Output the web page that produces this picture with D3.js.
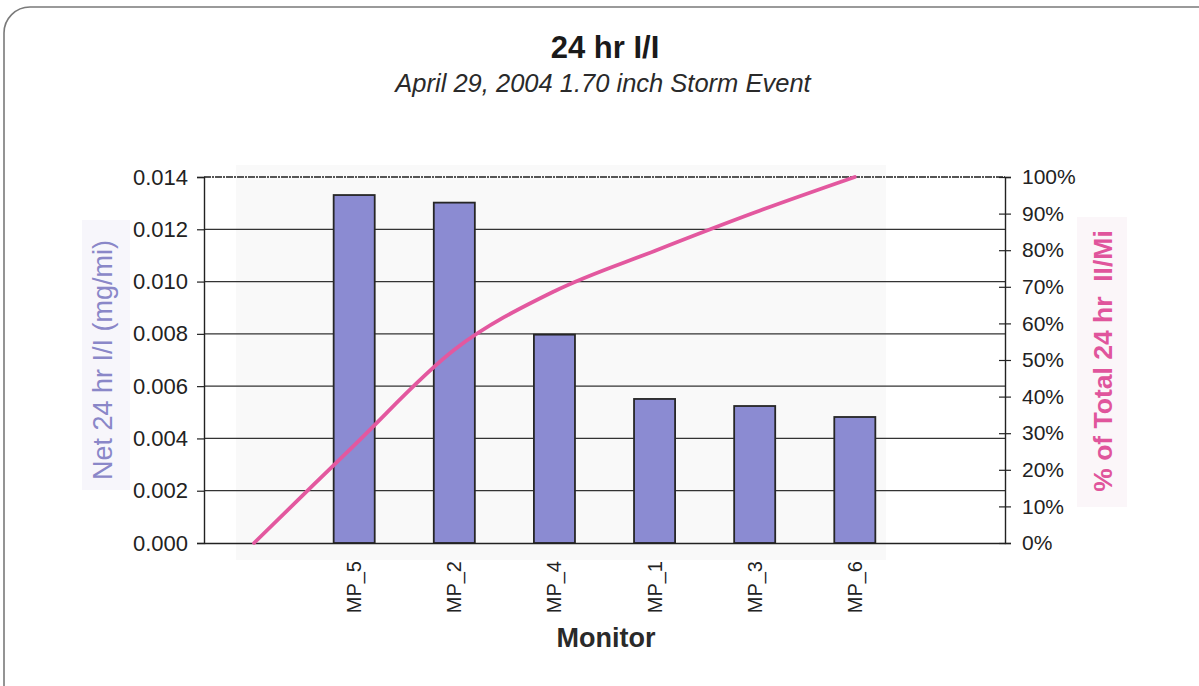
<!DOCTYPE html>
<html>
<head>
<meta charset="utf-8">
<script src="https://cdn.jsdelivr.net/npm/d3@7"></script>
<style>
  html, body { margin: 0; padding: 0; background: #fff; }
  svg { display: block; font-family: "Liberation Sans", Arial, sans-serif; }
</style>
</head>
<body>
<svg id="chart" width="1199" height="686"></svg>
<script>
// Monitors, ordered by net 24 hr I/I (descending)
const monitors = ["MP_5", "MP_2", "MP_4", "MP_1", "MP_3", "MP_6"];
// Net 24 hr I/I per monitor (mg/mi)
const netII = [0.01331, 0.01302, 0.00797, 0.00551, 0.00524, 0.00482];
// Cumulative % of total, starting from 0 one slot before the first monitor
const cumulativePct = [0, 26.7, 52.8, 68.8, 79.8, 90.3, 100];
// Axis ticks
const leftTicks = [0, 0.002, 0.004, 0.006, 0.008, 0.010, 0.012, 0.014];
const rightTicks = [0, 10, 20, 30, 40, 50, 60, 70, 80, 90, 100];

const FONT = "'Liberation Sans', Arial, sans-serif";
const svg = d3.select("#chart");

const plot = { left: 204, right: 1005, top: 177, bottom: 543 };

// One empty slot on each side of the monitors
const slots = ["lead", ...monitors, "trail"];
const x = d3.scaleBand().domain(slots).range([plot.left, plot.right]).padding(0);
const barW = x.bandwidth() * 0.41;
const cx = s => x(s) + x.bandwidth() / 2;

const yL = d3.scaleLinear().domain([0, 0.014]).range([plot.bottom, plot.top]);
const yR = d3.scaleLinear().domain([0, 100]).range([plot.bottom, plot.top]);

// Outer frame with rounded corners
svg.append("rect")
  .attr("x", 4).attr("y", 7).attr("width", 1230).attr("height", 720)
  .attr("rx", 26).attr("ry", 26)
  .attr("fill", "#fff").attr("stroke", "#7a7a7a").attr("stroke-width", 1.6);

// Faint backing panels
svg.append("rect")
  .attr("x", 236).attr("y", 165).attr("width", 650).attr("height", 395)
  .attr("fill", "#f9f9f9");
svg.append("rect")
  .attr("x", 82).attr("y", 220).attr("width", 48).attr("height", 270)
  .attr("fill", "#f7f6fb");
svg.append("rect")
  .attr("x", 1077).attr("y", 217).attr("width", 50).attr("height", 290)
  .attr("fill", "#fbf6f9");

// Horizontal gridlines
svg.append("g").selectAll("line")
  .data(leftTicks.slice(1))
  .join("line")
  .attr("x1", plot.left).attr("x2", plot.right)
  .attr("y1", d => yL(d)).attr("y2", d => yL(d))
  .attr("stroke", d => d === 0.014 ? "#555" : "#333")
  .attr("stroke-width", d => d === 0.014 ? 1.8 : 1.3)
  .attr("stroke-dasharray", d => d === 0.014 ? "7,1,2,1" : null);

// Bars
svg.append("g").selectAll("rect")
  .data(monitors)
  .join("rect")
  .attr("x", d => cx(d) - barW / 2)
  .attr("y", (d, i) => yL(netII[i]))
  .attr("width", barW)
  .attr("height", (d, i) => yL(0) - yL(netII[i]))
  .attr("fill", "#8b8bd2")
  .attr("stroke", "#262626")
  .attr("stroke-width", 1.8);

// Left axis
const leftAxis = d3.axisLeft(yL)
  .tickValues(leftTicks)
  .tickFormat(d3.format(".3f"))
  .tickSizeOuter(0)
  .tickSize(7)
  .tickPadding(9);
const gL = svg.append("g").attr("transform", `translate(${plot.left},0)`).call(leftAxis);
gL.select(".domain").attr("stroke", "#222").attr("stroke-width", 1.4);
gL.selectAll(".tick line").attr("stroke", "#222").attr("stroke-width", 1.2);
gL.selectAll(".tick text").attr("font-size", 22).attr("fill", "#222")
  .attr("font-family", FONT);

// Right axis with crossing ticks
const rightAxis = d3.axisRight(yR)
  .tickValues(rightTicks)
  .tickFormat(d => d + "%")
  .tickSizeOuter(0)
  .tickSize(6)
  .tickPadding(11);
const gR = svg.append("g").attr("transform", `translate(${plot.right},0)`).call(rightAxis);
gR.select(".domain").attr("stroke", "#222").attr("stroke-width", 1.4);
gR.selectAll(".tick line").attr("x1", -6).attr("stroke", "#222").attr("stroke-width", 1.2);
gR.selectAll(".tick text").attr("font-size", 21).attr("fill", "#222")
  .attr("font-family", FONT);

// Bottom axis line and rotated monitor labels
const bottomAxis = d3.axisBottom(x)
  .tickValues(monitors)
  .tickSize(0)
  .tickPadding(0);
const gB = svg.append("g").attr("transform", `translate(0,${plot.bottom})`).call(bottomAxis);
gB.select(".domain").attr("stroke", "#222").attr("stroke-width", 1.4);
gB.selectAll(".tick text")
  .attr("font-size", 20).attr("fill", "#222")
  .attr("font-family", FONT)
  .attr("text-anchor", "end")
  .attr("dy", "0.35em")
  .attr("transform", "translate(0,18) rotate(-90)")
  .attr("x", 0).attr("y", 0);

// Cumulative percentage line (smoothed)
const line = d3.line()
  .x((d, i) => cx(slots[i]))
  .y(d => yR(d))
  .curve(d3.curveCatmullRom.alpha(0));
svg.append("path")
  .datum(cumulativePct)
  .attr("d", line)
  .attr("fill", "none")
  .attr("stroke", "#e3589f")
  .attr("stroke-width", 3.8)
  .attr("stroke-linecap", "round");

// Titles
svg.append("text")
  .attr("x", 605).attr("y", 58)
  .attr("text-anchor", "middle")
  .attr("font-size", 31).attr("font-weight", "bold").attr("fill", "#1a1a1a")
  .text("24 hr I/I");
svg.append("text")
  .attr("x", 603).attr("y", 92)
  .attr("text-anchor", "middle")
  .attr("font-size", 25.5).attr("font-style", "italic").attr("fill", "#2a2a2a")
  .text("April 29, 2004 1.70 inch Storm Event");

// Axis titles
svg.append("text")
  .attr("transform", "translate(112,360) rotate(-90)")
  .attr("text-anchor", "middle")
  .attr("font-size", 27).attr("fill", "#8a87c8")
  .text("Net 24 hr I/I (mg/mi)");
svg.append("text")
  .attr("transform", "translate(1112,361) rotate(-90)")
  .attr("text-anchor", "middle")
  .attr("font-size", 26.5).attr("font-weight", "bold").attr("fill", "#e0559c")
  .attr("xml:space", "preserve")
  .text("% of Total 24 hr  II/Mi");
svg.append("text")
  .attr("x", 606).attr("y", 647)
  .attr("text-anchor", "middle")
  .attr("font-size", 27).attr("font-weight", "bold").attr("fill", "#2a2a2a")
  .text("Monitor");
</script>
</body>
</html>
